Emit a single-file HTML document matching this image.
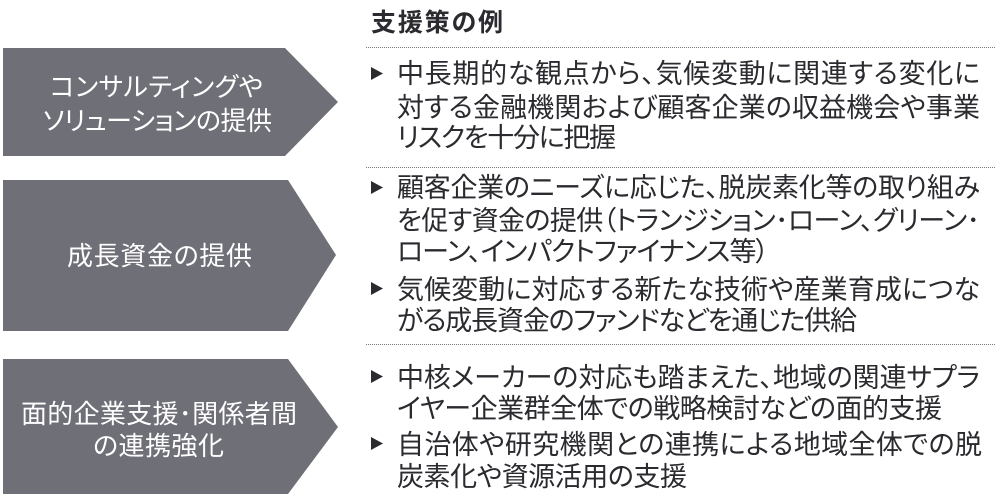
<!DOCTYPE html>
<html lang="ja">
<head>
<meta charset="utf-8">
<style>
html,body{margin:0;padding:0;background:#fff;width:1000px;height:499px;overflow:hidden}
svg{display:block}
text{font-family:"Liberation Sans","Noto Sans CJK JP",sans-serif;font-feature-settings:"palt"}
.b{font-size:27px;fill:#2a2a2f}
.w{font-size:26px;fill:#fff}
.h{font-size:25px;font-weight:700;fill:#2a2a2f}
</style>
</head>
<body>
<svg width="1000" height="499" viewBox="0 0 1000 499" xmlns="http://www.w3.org/2000/svg">
<polygon points="3,48 285,48 338,102 285,156 3,156" fill="#6f6f78"/>
<polygon points="3,180 288,180 336,255 288,331 3,331" fill="#6f6f78"/>
<polygon points="3,359 288,359 338,427 288,494 3,494" fill="#6f6f78"/>
<g stroke="#77777c" stroke-width="1" stroke-dasharray="1 1">
<line x1="366" y1="47.5" x2="995" y2="47.5"/>
<line x1="366" y1="167.5" x2="995" y2="167.5"/>
<line x1="366" y1="344.5" x2="995" y2="344.5"/>
</g>
<g fill="#2a2a2f">
<polygon points="371,67 371,80 383,73.5"/>
<polygon points="371,181 371,194 383,187.5"/>
<polygon points="371,282 371,295 383,288.5"/>
<polygon points="371,370 371,383 383,376.5"/>
<polygon points="371,437 371,450 383,443.5"/>
</g>
<text class="h" x="371" y="31" textLength="132" lengthAdjust="spacing">支援策の例</text>
<text class="w" x="50" y="96" textLength="213" lengthAdjust="spacing">コンサルティングや</text>
<text class="w" x="43" y="130" textLength="229" lengthAdjust="spacing">ソリューションの提供</text>
<text class="w" x="67" y="265" textLength="185" lengthAdjust="spacing">成長資金の提供</text>
<text class="w" x="21" y="423" textLength="276" lengthAdjust="spacing">面的企業支援･関係者間</text>
<text class="w" x="93" y="455" textLength="131" lengthAdjust="spacing">の連携強化</text>
<text class="b" x="397" y="83" textLength="583" lengthAdjust="spacing">中長期的な観点から、気候変動に関連する変化に</text>
<text class="b" x="397" y="117" textLength="583" lengthAdjust="spacing">対する金融機関および顧客企業の収益機会や事業</text>
<text class="b" x="397" y="147" textLength="219" lengthAdjust="spacing">リスクを十分に把握</text>
<text class="b" x="397" y="197" textLength="583" lengthAdjust="spacing">顧客企業のニーズに応じた、脱炭素化等の取り組み</text>
<text class="b" x="397" y="230" textLength="583" lengthAdjust="spacing">を促す資金の提供（トランジション･ローン、グリーン･</text>
<text class="b" x="397" y="261" textLength="372" lengthAdjust="spacing">ローン、インパクトファイナンス等）</text>
<text class="b" x="397" y="299" textLength="583" lengthAdjust="spacing">気候変動に対応する新たな技術や産業育成につな</text>
<text class="b" x="397" y="330" textLength="460" lengthAdjust="spacing">がる成長資金のファンドなどを通じた供給</text>
<text class="b" x="397" y="387" textLength="583" lengthAdjust="spacing">中核メーカーの対応も踏まえた、地域の関連サプラ</text>
<text class="b" x="397" y="418" textLength="545" lengthAdjust="spacing">イヤー企業群全体での戦略検討などの面的支援</text>
<text class="b" x="397" y="454" textLength="585" lengthAdjust="spacing">自治体や研究機関との連携による地域全体での脱</text>
<text class="b" x="397" y="486" textLength="290" lengthAdjust="spacing">炭素化や資源活用の支援</text>
</svg>
</body>
</html>
